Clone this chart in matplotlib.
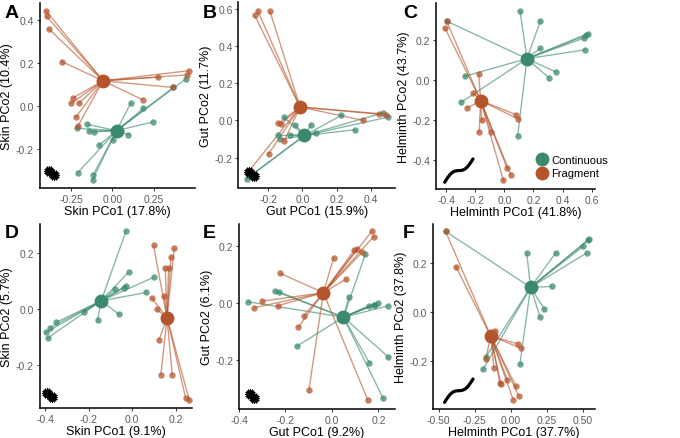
import numpy as np
import matplotlib
matplotlib.use("Agg")
import matplotlib.pyplot as plt
from matplotlib.lines import Line2D
from matplotlib.ticker import FormatStrFormatter
import matplotlib.transforms as mtransforms

plt.rcParams['font.family'] = ['Liberation Sans', 'DejaVu Sans']

GREEN = '#3c8a6e'
ORANGE = '#b5552b'

# ---- panel A : skin, PCo1 x PCo2
a_cont_x = [-0.216, -0.151, -0.139, -0.109, -0.079, 0.002, 0.097, 0.244, 0.188, 0.111, 0.444, 0.37, -0.210, -0.115, -0.119]
a_cont_y = [-0.105, -0.087, -0.119, -0.122, -0.183, -0.161, -0.135, -0.076, -0.012, 0.011, 0.124, 0.085, -0.313, -0.321, -0.344]
a_frag_x = [-0.401, -0.397, -0.383, -0.304, -0.238, -0.248, -0.200, -0.220, -0.208, 0.183, 0.365, 0.278, 0.450, 0.464]
a_frag_y = [0.442, 0.416, 0.357, 0.205, 0.036, 0.011, 0.012, -0.053, -0.095, 0.028, 0.085, 0.133, 0.143, 0.163]
a_cent = {'cont': (0.026, -0.116), 'frag': (-0.056, 0.116)}

# ---- panel B : gut
b_cont_x = [-0.109, -0.043, 0.051, -0.141, -0.129, -0.070, 0.078, 0.229, 0.309, 0.475, 0.504, -0.326, -0.31]
b_cont_y = [0.016, -0.023, -0.023, -0.081, -0.102, -0.077, -0.066, 0.027, -0.050, 0.041, 0.018, -0.313, -0.30]
b_frag_x = [-0.280, -0.262, -0.190, -0.141, -0.125, -0.106, -0.199, -0.313, 0.358, 0.452, 0.491]
b_frag_y = [0.564, 0.589, 0.585, -0.016, -0.020, -0.109, -0.181, -0.272, 0.0, 0.036, 0.030]
b_cent = {'cont': (0.012, -0.081), 'frag': (-0.014, 0.072)}

# ---- panel C : helminth
c_cont_x = [0.107, 0.247, 0.574, 0.550, 0.565, 0.555, 0.245, 0.355, 0.309, -0.274, -0.298, 0.091, -0.399]
c_cont_y = [0.347, 0.296, 0.233, 0.211, 0.225, 0.152, 0.159, 0.040, 0.010, 0.019, -0.112, -0.280, 0.296]
c_frag_x = [-0.399, -0.410, -0.178, -0.215, -0.257, -0.157, -0.174, -0.093, 0.019, 0.043, -0.008, 0.079, 0.095]
c_frag_y = [0.296, 0.261, 0.032, -0.065, -0.141, -0.203, -0.260, -0.260, -0.444, -0.476, -0.503, -0.174, -0.196]
c_cent = {'cont': (0.155, 0.107), 'frag': (-0.164, -0.104)}

# ---- panel D : skin, second axis pair
d_cont_x = [-0.029, -0.017, 0.100, 0.064, -0.028, -0.040, -0.078, -0.060, -0.160, -0.221, -0.350, -0.378, -0.396, -0.388]
d_cont_y = [0.279, 0.132, 0.114, 0.059, 0.084, 0.075, 0.071, -0.020, -0.040, -0.010, -0.048, -0.067, -0.084, -0.104]
d_frag_x = [0.098, 0.193, 0.178, 0.152, 0.167, 0.147, 0.091, 0.114, 0.123, 0.132, 0.184, 0.246, 0.263]
d_frag_y = [0.228, 0.218, 0.186, 0.147, 0.147, 0.047, 0.038, -0.002, -0.111, -0.236, -0.236, -0.321, -0.329]
d_cent = {'cont': (-0.143, 0.029), 'frag': (0.160, -0.032)}

# ---- panel E : gut, second axis pair
e_cont_x = [0.144, 0.073, 0.161, 0.179, 0.186, 0.196, 0.243, -0.244, -0.226, -0.361, -0.150, 0.161, 0.243, 0.219]
e_cont_y = [0.173, 0.023, -0.008, -0.005, -0.005, 0.0, -0.009, 0.042, 0.039, 0.005, -0.150, -0.209, -0.189, -0.332]
e_frag_x = [0.172, 0.179, 0.096, 0.108, 0.130, 0.007, 0.059, -0.223, -0.301, -0.336, -0.234, -0.121, -0.145, -0.099, 0.154]
e_frag_y = [0.253, 0.234, 0.187, 0.190, 0.179, 0.159, 0.084, 0.105, 0.007, -0.016, -0.009, -0.044, -0.084, -0.303, -0.339]
e_cent = {'cont': (0.049, -0.049), 'frag': (-0.037, 0.037)}

# ---- panel F : helminth, second axis pair
f_cont_x = [0.536, 0.543, 0.501, 0.524, 0.109, 0.309, 0.282, 0.231, 0.201, 0.062, -0.173, -0.192, -0.453]
f_cont_y = [0.292, 0.296, 0.266, 0.239, 0.239, 0.239, 0.103, 0.011, -0.020, -0.213, -0.183, -0.233, 0.327]
f_frag_x = [-0.453, -0.381, -0.111, 0.051, 0.067, -0.173, -0.118, -0.025, -0.076, -0.070, 0.035, 0.055, 0.016]
f_frag_y = [0.327, 0.183, -0.080, -0.132, -0.148, -0.193, -0.229, -0.277, -0.290, -0.294, -0.304, -0.344, -0.359]
f_cent = {'cont': (0.136, 0.099), 'frag': (-0.141, -0.098)}

panels = [
    ('A', a_cont_x, a_cont_y, a_frag_x, a_frag_y, a_cent, 'Skin PCo1 (17.8%)', 'Skin PCo2 (10.4%)',
     (-0.44, 0.50), (-0.383, 0.478), [-0.25, 0, 0.25], [-0.2, 0, 0.2, 0.4], '%.2f', 'bug', (-0.367, -0.315)),
    ('B', b_cont_x, b_cont_y, b_frag_x, b_frag_y, b_cent, 'Gut PCo1 (15.9%)', 'Gut PCo2 (11.7%)',
     (-0.375, 0.543), (-0.363, 0.636), [-0.2, 0, 0.2, 0.4], [-0.2, 0, 0.2, 0.4, 0.6], '%.1f', 'bug', (-0.30, -0.29)),
    ('C', c_cont_x, c_cont_y, c_frag_x, c_frag_y, c_cent, 'Helminth PCo1 (41.8%)', 'Helminth PCo2 (43.7%)',
     (-0.472, 0.624), (-0.548, 0.387), [-0.4, -0.2, 0, 0.2, 0.4, 0.6], [-0.4, -0.2, 0, 0.2], '%.1f', 'worm',
     (-0.412, -0.217, -0.514, -0.397)),
    ('D', d_cont_x, d_cont_y, d_frag_x, d_frag_y, d_cent, 'Skin PCo1 (9.1%)', 'Skin PCo2 (5.7%)',
     (-0.427, 0.275), (-0.356, 0.305), [-0.4, -0.2, 0, 0.2], [-0.2, 0, 0.2], '%.1f', 'bug', (-0.38, -0.31)),
    ('E', e_cont_x, e_cont_y, e_frag_x, e_frag_y, e_cent, 'Gut PCo1 (9.2%)', 'Gut PCo2 (6.1%)',
     (-0.39, 0.271), (-0.371, 0.278), [-0.4, -0.2, 0, 0.2], [-0.2, 0, 0.2], '%.1f', 'bug', (-0.345, -0.325)),
    ('F', f_cont_x, f_cont_y, f_frag_x, f_frag_y, f_cent, 'Helminth PCo1 (37.7%)', 'Helminth PCo2 (37.8%)',
     (-0.540, 0.582), (-0.396, 0.357), [-0.5, -0.25, 0, 0.25, 0.5], [-0.2, 0, 0.2], '%.2f', 'worm',
     (-0.46, -0.263, -0.369, -0.274)),
]

# axes boxes in pixels: left, top, right, bottom
boxes = [(39.5, 4, 195, 189), (238.5, 3, 395, 189), (436, 4, 595, 190),
         (39.5, 225, 192, 409), (239, 225, 395, 410), (433, 225, 595, 410)]
letter_pos = [(5, 5), (203, 5), (403, 5), (5, 225), (203, 225), (403, 225)]

W, H = 680, 439
fig = plt.figure(figsize=(W / 100, H / 100), dpi=100)


def draw_bug(ax, x, y):
    for dx, dy in [(-1.6, 1.5), (1.6, -1.5)]:
        tr = mtransforms.offset_copy(ax.transData, fig=fig, x=dx, y=dy, units='points')
        ax.plot([x], [y], marker='o', ms=4.5, color='black', transform=tr, zorder=6)
        ax.plot([x], [y], marker=(16, 2, 0), ms=7.5, mew=0.7, color='black', transform=tr, zorder=6)


def draw_worm(ax, box):
    x0, x1, y0, y1 = box
    t = np.linspace(0, 1, 80)
    xs = x0 + (x1 - x0) * t
    ys = y0 + (y1 - y0) * (t + 0.15 * np.sin(2 * np.pi * t))
    ax.plot(xs, ys, color='black', lw=2.3, solid_capstyle='round', zorder=6)


for i, p in enumerate(panels):
    (letter, cx, cy, fx, fy, cent, xlab, ylab, xlim, ylim, xt, yt, fmt, icon, ipos) = p
    l, t, r, b = boxes[i]
    ax = fig.add_axes([l / W, 1 - b / H, (r - l) / W, (b - t) / H])
    for xs, ys, key, col in [(cx, cy, 'cont', GREEN), (fx, fy, 'frag', ORANGE)]:
        mx, my = cent[key]
        for px, py in zip(xs, ys):
            ax.plot([mx, px], [my, py], color=col, lw=1.0, alpha=0.6, zorder=2)
        ax.plot(xs, ys, 'o', color=col, ms=4.6, alpha=0.75, mew=0, zorder=3)
        ax.plot([mx], [my], 'o', color=col, ms=10, mew=0, zorder=4)
    if icon == 'bug':
        draw_bug(ax, *ipos)
    else:
        draw_worm(ax, ipos)
    ax.set_xlim(xlim)
    ax.set_ylim(ylim)
    ax.set_xticks(xt)
    ax.set_yticks(yt)
    ax.xaxis.set_major_formatter(FormatStrFormatter(fmt))
    ax.yaxis.set_major_formatter(FormatStrFormatter('%.1f'))
    for s in ['top', 'right']:
        ax.spines[s].set_visible(False)
    for s in ['left', 'bottom']:
        ax.spines[s].set_linewidth(1.1)
    ax.tick_params(labelsize=7.5, labelcolor='#5e5e5e', color='#333333', length=2.5, width=0.7, pad=1.5)
    ax.set_xlabel(xlab, fontsize=9, labelpad=1)
    ax.set_ylabel(ylab, fontsize=9, labelpad=2)
    lx, ly = letter_pos[i]
    fig.text(lx / W, 1 - ly / H, letter, fontsize=14, fontweight='bold', va='top', ha='left')
    if letter == 'C':
        handles = [Line2D([], [], marker='o', ls='', color=GREEN, ms=10, mew=0),
                   Line2D([], [], marker='o', ls='', color=ORANGE, ms=10, mew=0)]
        ax.legend(handles, ['Continuous', 'Fragment'], loc='upper left', bbox_to_anchor=(0.58, 0.215),
                  frameon=False, fontsize=8, handletextpad=0.1, labelspacing=0.35, borderpad=0,
                  handlelength=1.5)

fig.savefig('out.png', dpi=100)
